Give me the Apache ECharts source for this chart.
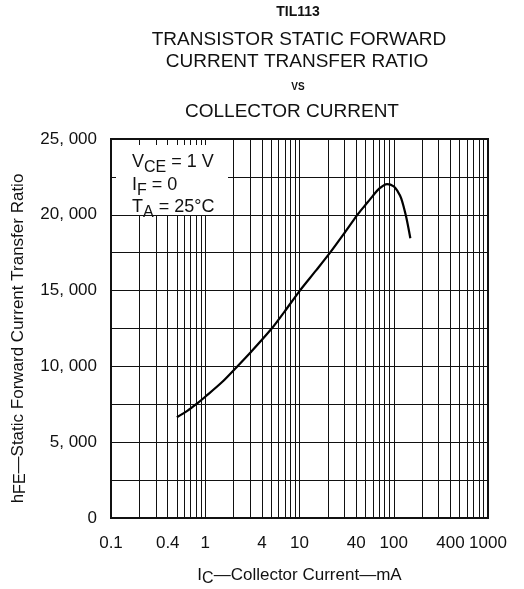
<!DOCTYPE html>
<html>
<head>
<meta charset="utf-8">
<script src="https://cdn.jsdelivr.net/npm/echarts@6/dist/echarts.min.js"></script>
<style>
  html, body { margin: 0; padding: 0; background: #fff; }
  #chart { width: 524px; height: 589px; }
</style>
</head>
<body>
<div id="chart"></div>
<script>
// collector current (mA) and hFE
var currentMA = [0.5, 0.65, 0.81, 1, 1.5, 2.19, 3, 5.07, 7, 10.1, 15, 21.1, 30, 41.1, 50, 60, 70, 85, 100, 110, 120, 135, 150];
var hfe = [6650, 7080, 7530, 8000, 8950, 10000, 10900, 12500, 13650, 15000, 16330, 17500, 18800, 20000, 20650, 21250, 21730, 22030, 21880, 21550, 21090, 19900, 18450];

// x tick labels (log axis) and extra vertical grid lines
var xTickValues = [0.1, 0.4, 1, 4, 10, 40, 100, 400, 1000];
var xTickLabels = ['0.1', '0.4', '1', '4', '10', '40', '100', '400', '1000'];
var xGridValues = [0.2, 0.3, 0.4, 0.5, 0.6, 0.7, 0.8, 0.9,
                   2, 3, 4, 5, 6, 7, 8, 9,
                   20, 30, 40, 50, 60, 70, 80, 90,
                   200, 300, 400, 500, 600, 700, 800, 900];
var yTickLabels = ['0', '5, 000', '10, 000', '15, 000', '20, 000', '25, 000'];

var font = '"Liberation Sans", Arial, sans-serif';
var ink = '#111';

var chart = echarts.init(document.getElementById('chart'));

// vertical lines + bottom labels via markLine
var vLines = [];
xGridValues.forEach(function (v) {
  vLines.push({ xAxis: v, label: { show: false } });
});
xTickValues.forEach(function (v, i) {
  vLines.push({ xAxis: v, label: { show: true, formatter: xTickLabels[i] } });
});

function condText(y, main, sub, rest) {
  return {
    type: 'text', z: 101, x: 132, y: y,
    style: {
      text: '{n|' + main + '}{s|' + sub + '}{n|' + rest + '}',
      textVerticalAlign: 'middle',
      rich: {
        n: { fontFamily: font, fontSize: 18, fill: ink },
        s: { fontFamily: font, fontSize: 16, fill: ink, padding: [11, 0, 0, 0] }
      }
    }
  };
}

function titleText(x, y, text, size, bold) {
  return {
    type: 'text', x: x, y: y,
    style: {
      text: text, textAlign: 'center', textVerticalAlign: 'middle',
      fontFamily: font, fontSize: size, fontWeight: bold ? 'bold' : 'normal', fill: ink
    }
  };
}

chart.setOption({
  animation: false,
  backgroundColor: '#fff',
  grid: {
    left: 111, top: 139, right: 36, bottom: 71,
    containLabel: false,
    outerBoundsMode: 'none',
    show: true, borderColor: ink, borderWidth: 2
  },
  xAxis: {
    type: 'log',
    logBase: 10,
    min: 0.1,
    max: 1000,
    name: '{n|I}{s|C}{n|—Collector Current—mA}',
    nameLocation: 'middle',
    nameGap: 46,
    nameTextStyle: {
      rich: {
        n: { fontFamily: font, fontSize: 17, color: ink },
        s: { fontFamily: font, fontSize: 16, color: ink, padding: [7, 0, 0, 0] }
      }
    },
    axisLine: { show: true, lineStyle: { color: ink, width: 2 } },
    axisTick: { show: false },
    axisLabel: { show: false },
    splitLine: { show: true, lineStyle: { color: ink, width: 1 } }
  },
  yAxis: {
    type: 'value',
    min: 0,
    max: 25000,
    interval: 2500,
    name: '{n|h}{s|FE}{n|—Static Forward Current Transfer Ratio}',
    nameLocation: 'middle',
    nameGap: 82,
    nameTextStyle: {
      padding: [0, 20, 0, 0],
      rich: {
        n: { fontFamily: font, fontSize: 17, color: ink },
        s: { fontFamily: font, fontSize: 16, color: ink, padding: [5, 0, 0, 0] }
      }
    },
    axisLine: { show: true, lineStyle: { color: ink, width: 2 } },
    axisTick: { show: false },
    axisLabel: {
      margin: 14,
      fontFamily: font,
      fontSize: 17,
      color: ink,
      formatter: function (v) {
        return v % 5000 === 0 ? yTickLabels[v / 5000] : '';
      }
    },
    splitLine: { show: true, lineStyle: { color: ink, width: 1 } }
  },
  series: [{
    type: 'line',
    data: currentMA.map(function (x, i) { return [x, hfe[i]]; }),
    smooth: 0.3,
    showSymbol: false,
    lineStyle: { color: '#000', width: 2.2 },
    z: 5,
    markLine: {
      silent: true,
      symbol: 'none',
      animation: false,
      lineStyle: { color: ink, width: 1, type: 'solid' },
      label: {
        position: 'start',
        distance: 17,
        fontFamily: font,
        fontSize: 17,
        color: ink
      },
      data: vLines
    }
  }],
  graphic: [
    // white patch behind the conditions text
    { type: 'rect', z: 100, shape: { x: 116, y: 145, width: 112, height: 70 }, style: { fill: '#fff' } },
    condText(162, 'V', 'CE', ' = 1 V'),
    condText(185, 'I', 'F', ' = 0'),
    condText(207, 'T', 'A', ' = 25°C'),
    // title block
    titleText(298, 12, 'TIL113', 14, true),
    titleText(299, 40, 'TRANSISTOR STATIC FORWARD', 19, false),
    titleText(297, 62, 'CURRENT TRANSFER RATIO', 19, false),
    titleText(298, 87, 'VS', 10, true),
    titleText(292, 112, 'COLLECTOR CURRENT', 19, false)
  ]
});
</script>
</body>
</html>
